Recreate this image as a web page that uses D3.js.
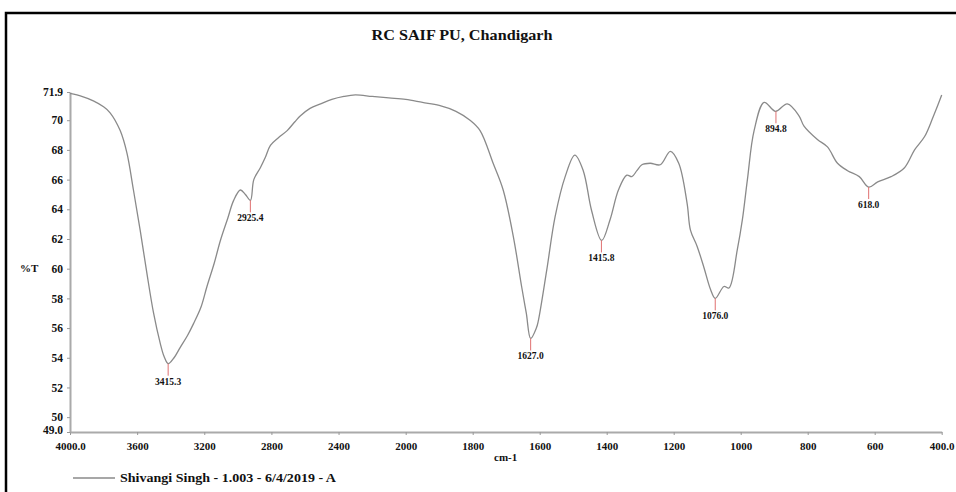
<!DOCTYPE html>
<html>
<head>
<meta charset="utf-8">
<script src="https://cdn.jsdelivr.net/npm/d3@7"></script>
<style>
  body { margin: 0; background: #fff; }
  text { font-family: "Liberation Serif", "DejaVu Serif", serif; font-weight: bold; fill: #111; }
</style>
</head>
<body>
<div id="chart"></div>
<script>
// spectrum (wavenumber cm-1, %T)
const wavenumber = [4000, 3930, 3861, 3800, 3761, 3701, 3661, 3622, 3582, 3542, 3502, 3463, 3440, 3415, 3380, 3343, 3300, 3264, 3220, 3184, 3140, 3104, 3060, 3025, 2985, 2955, 2925, 2905, 2866, 2836, 2806, 2760, 2706, 2660, 2627, 2570, 2507, 2440, 2368, 2300, 2200, 2100, 2000, 1950, 1900, 1850, 1808, 1778, 1739, 1709, 1679, 1654, 1640, 1627, 1610, 1604, 1579, 1554, 1524, 1495, 1470, 1445, 1415, 1390, 1365, 1340, 1325, 1310, 1295, 1270, 1240, 1210, 1185, 1160, 1150, 1130, 1110, 1090, 1076, 1050, 1035, 1010, 995, 980, 960, 930, 896, 861, 826, 811, 771, 741, 711, 681, 646, 618, 591, 551, 511, 481, 451, 426, 400];
const transmittance = [71.8, 71.6, 71.3, 70.9, 70.5, 69.3, 67.8, 65.3, 62.6, 59.7, 57.0, 55.0, 54.1, 53.6, 54.0, 54.7, 55.5, 56.3, 57.4, 58.8, 60.4, 61.9, 63.4, 64.6, 65.3, 65.0, 64.6, 66.0, 66.8, 67.5, 68.3, 68.8, 69.3, 69.9, 70.3, 70.8, 71.1, 71.4, 71.6, 71.7, 71.6, 71.5, 71.4, 71.2, 71.0, 70.6, 70.0, 69.3, 67.1, 65.3, 62.2, 58.8, 57.0, 55.3, 56.0, 56.5, 59.9, 63.5, 66.2, 67.65, 66.6, 63.9, 61.9, 63.3, 65.3, 66.3, 66.2, 66.6, 67.0, 67.1, 67.0, 67.9, 67.1, 64.4, 62.6, 61.5, 60.1, 58.6, 58.0, 58.8, 58.7, 61.3, 63.3, 66.0, 69.3, 71.2, 70.6, 71.1, 70.3, 69.6, 68.7, 68.2, 67.1, 66.6, 66.2, 65.5, 65.85, 66.2, 66.8, 68.0, 68.9, 70.2, 71.7];

const peakLabels = ["3415.3", "2925.4", "1627.0", "1415.8", "1076.0", "894.8", "618.0"];
const peakWn = [3415.3, 2925.4, 1627.0, 1415.8, 1076.0, 894.8, 618.0];
const peakT = [53.6, 64.6, 55.3, 61.9, 58.0, 70.6, 65.5];

const xTicks = [4000, 3600, 3200, 2800, 2400, 2000, 1800, 1600, 1400, 1200, 1000, 800, 600, 400];
const xTickLabels = ["4000.0", "3600", "3200", "2800", "2400", "2000", "1800", "1600", "1400", "1200", "1000", "800", "600", "400.0"];
const yTicks = [49, 50, 52, 54, 56, 58, 60, 62, 64, 66, 68, 70, 71.9];
const yTickLabels = ["49.0", "50", "52", "54", "56", "58", "60", "62", "64", "66", "68", "70", "71.9"];

const width = 956, height = 492;

const svg = d3.select("#chart")
  .append("svg")
  .attr("width", width)
  .attr("height", height);

// frame (left + top edges show in the picture)
svg.append("rect")
  .attr("x", 6).attr("y", 13)
  .attr("width", 960).attr("height", 500)
  .attr("fill", "none")
  .attr("stroke", "#000")
  .attr("stroke-width", 2.5);

// x scale changes at 2000 cm-1 like the instrument plot
const x = d3.scaleLinear()
  .domain([4000, 2000, 400])
  .range([70, 405.7, 941.7]);

const y = d3.scaleLinear()
  .domain([49, 71.9])
  .range([432, 92]);

svg.append("text")
  .attr("x", 462).attr("y", 40)
  .attr("text-anchor", "middle")
  .attr("font-size", 15)
  .attr("textLength", 181)
  .attr("lengthAdjust", "spacingAndGlyphs")
  .text("RC SAIF PU, Chandigarh");

// axes
const xAxis = d3.axisBottom(x)
  .tickValues(xTicks)
  .tickFormat((d, i) => xTickLabels[i])
  .tickSize(3)
  .tickSizeOuter(0);

const yAxis = d3.axisLeft(y)
  .tickValues(yTicks)
  .tickFormat((d, i) => yTickLabels[i])
  .tickSize(3)
  .tickSizeOuter(0);

const gx = svg.append("g")
  .attr("transform", `translate(0,${y(49)})`)
  .call(xAxis);
gx.select(".domain").attr("stroke", "#aaa").attr("stroke-width", 2);
gx.selectAll(".tick line").attr("stroke", "#999");
gx.selectAll(".tick text")
  .attr("font-size", 11)
  .attr("dy", "1.05em");

const gy = svg.append("g")
  .attr("transform", `translate(${x(4000)},0)`)
  .call(yAxis);
gy.select(".domain").attr("stroke", "#aaa").attr("stroke-width", 2);
gy.selectAll(".tick line").attr("stroke", "#999");
gy.selectAll(".tick text")
  .attr("font-size", 11.5)
  .attr("x", -7);
gy.selectAll(".tick").filter(d => d === 49)
  .select("text").attr("dy", "0.1em");

svg.selectAll(".tick text")
  .attr("font-family", "'Liberation Serif', serif")
  .attr("font-weight", "bold")
  .attr("fill", "#111");

svg.append("text")
  .attr("x", 20).attr("y", 272)
  .attr("font-size", 11)
  .text("%T");

svg.append("text")
  .attr("x", 494).attr("y", 461)
  .attr("font-size", 11)
  .text("cm-1");

// spectrum
const points = wavenumber.map((w, i) => [w, transmittance[i]]);

const line = d3.line()
  .x(d => x(d[0]))
  .y(d => y(d[1]))
  .curve(d3.curveCatmullRom.alpha(0.5));

svg.append("path")
  .datum(points)
  .attr("fill", "none")
  .attr("stroke", "#8a8a8a")
  .attr("stroke-width", 1.3)
  .attr("d", line);

// peak markers
const peaks = peakWn.map((w, i) => ({ w, t: peakT[i], label: peakLabels[i] }));

svg.append("g")
  .selectAll("line")
  .data(peaks)
  .join("line")
  .attr("x1", d => x(d.w))
  .attr("x2", d => x(d.w))
  .attr("y1", d => y(d.t))
  .attr("y2", d => y(d.t) + 12)
  .attr("stroke", "#e07070")
  .attr("stroke-width", 1);

svg.append("g")
  .selectAll("text")
  .data(peaks)
  .join("text")
  .attr("x", d => x(d.w))
  .attr("y", d => y(d.t) + 21)
  .attr("text-anchor", "middle")
  .attr("font-size", 9.5)
  .text(d => d.label);

// legend
svg.append("line")
  .attr("x1", 73).attr("x2", 115)
  .attr("y1", 478).attr("y2", 478)
  .attr("stroke", "#8a8a8a")
  .attr("stroke-width", 1.3);

svg.append("text")
  .attr("x", 120).attr("y", 482)
  .attr("font-size", 12)
  .attr("textLength", 216)
  .attr("lengthAdjust", "spacingAndGlyphs")
  .text("Shivangi Singh - 1.003 - 6/4/2019 - A");
</script>
</body>
</html>
